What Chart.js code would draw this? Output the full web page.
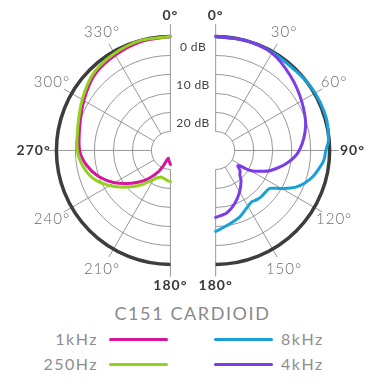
<!DOCTYPE html>
<html>
<head>
<meta charset="utf-8">
<script src="https://cdn.jsdelivr.net/npm/chart.js@4"></script>
<style>
  body { margin: 0; background: #fff; width: 381px; height: 384px; overflow: hidden; position: relative; font-family: Lato, "Open Sans", sans-serif; }
  #chart { position: absolute; left: 0; top: 0; }
  #title { position: absolute; left: 0; width: 385px; top: 302px; text-align: center; font-size: 18px; letter-spacing: 1.6px; color: #8a8a8a; }
  .key { position: absolute; font-size: 16px; letter-spacing: 1.5px; color: #8e8e8e; line-height: 16px; }
  .key.l { text-align: right; width: 98px; left: 0; }
  .key.r { left: 281px; }
  .swatch { position: absolute; height: 3px; width: 59px; border-radius: 2px; }
</style>
</head>
<body>
<canvas id="chart" width="381" height="300"></canvas>
<div id="title">C151 CARDIOID</div>
<div id="legend"></div>
<script>
// angles in degrees clockwise from 0 (front); levels in dB relative to on-axis
const leftAngles = [360, 345, 330, 315, 300, 285, 270, 260, 250, 240, 230, 220, 210, 205, 200, 195, 190, 185, 180];
const level1k   = [0, -0.3, -1.0, -1.8, -3.7, -5.3, -6.1, -7.6, -9.9, -13.0, -16.6, -19.8, -23.4, -25.5, -27.4, -27.9, -27.4, -27.0, -26.3];
const level250  = [0, 0, -0.5, -1.3, -3.2, -4.8, -5.5, -6.6, -8.4, -11.5, -15.0, -18.2, -21.2, -22.1, -22.6, -22.5, -22.3, -22.0, -21.8];

const angles4k = [0, 15, 30, 45, 60, 75, 90, 100, 110, 115, 120, 124, 130, 135, 140, 150, 160, 170, 180];
const level4k  = [0, 0, -0.4, -2.2, -3.9, -5.5, -8.0, -10.9, -14.6, -17.0, -19.5, -22.9, -21.6, -21.0, -19.6, -17.4, -15.2, -13.3, -12.4];

const angles8k = [0, 15, 30, 45, 55, 65, 75, 85, 90, 95, 100, 105, 110, 115, 120, 125, 130, 135, 140, 145, 150, 155, 160, 170, 180];
const level8k  = [0, 0, -0.2, -0.3, 0.1, 0.3, 0.3, -0.2, -1.0, -1.4, -2.4, -3.5, -5.0, -7.0, -10.0, -12.6, -12.9, -12.9, -13.1, -13.5, -13.0, -12.3, -11.4, -10.2, -8.7];

const degreeTicks = [0, 30, 60, 90, 120, 150, 180, 210, 240, 270, 300, 330];
const ringLevels = [-25, -20, -15, -10, -5];
const dbLabels = ['0 dB', '10 dB', '20 dB'];
const dbLabelLevels = [0, -10, -20];

const legendItems = [
  { name: '1kHz', color: '#d4179b', side: 'l', row: 0 },
  { name: '250Hz', color: '#93d11f', side: 'l', row: 1 },
  { name: '8kHz', color: '#1aa0d8', side: 'r', row: 0 },
  { name: '4kHz', color: '#7b3ee6', side: 'r', row: 1 }
];

const range = 30;     // dB from centre to outer ring
const split = 5.95;   // half offset from middle, in dB units

function toXY(angles, levels, cx) {
  return angles.map((a, i) => {
    const r = range + levels[i];
    const t = a * Math.PI / 180;
    return { x: cx + r * Math.sin(t), y: r * Math.cos(t) };
  });
}

function series(label, data, color, order) {
  return {
    label: label, data: data, borderColor: color, backgroundColor: color,
    showLine: true, pointRadius: 0, borderWidth: 3, tension: 0.3,
    borderCapStyle: 'round', borderJoinStyle: 'round', order: order, clip: false
  };
}

const polarGrid = {
  id: 'polarGrid',
  beforeDatasetsDraw(chart) {
    const ctx = chart.ctx;
    const xs = chart.scales.x, ys = chart.scales.y;
    const unit = xs.getPixelForValue(1) - xs.getPixelForValue(0);
    const cy = ys.getPixelForValue(0);
    const halves = [
      { cx: xs.getPixelForValue(-split), start: Math.PI / 2, ticks: degreeTicks.filter(d => d >= 180).concat([0]) },
      { cx: xs.getPixelForValue(split), start: -Math.PI / 2, ticks: degreeTicks.filter(d => d <= 180) }
    ];
    ctx.save();
    halves.forEach(h => {
      // thin rings
      ctx.strokeStyle = '#8c8c8c';
      ctx.lineWidth = 0.9;
      ringLevels.forEach(lv => {
        ctx.beginPath();
        ctx.arc(h.cx, cy, (range + lv) * unit, h.start, h.start + Math.PI);
        ctx.stroke();
      });
      // spokes
      h.ticks.forEach(d => {
        const t = d * Math.PI / 180;
        const outer = (d % 180 === 0 ? 33.2 : 32.4) * unit;
        const inner = 5 * unit;
        ctx.beginPath();
        ctx.moveTo(h.cx + inner * Math.sin(t), cy - inner * Math.cos(t));
        ctx.lineTo(h.cx + outer * Math.sin(t), cy - outer * Math.cos(t));
        ctx.stroke();
      });
      // outer 0 dB ring
      ctx.strokeStyle = '#3d3d3d';
      ctx.lineWidth = 3.5;
      ctx.beginPath();
      ctx.arc(h.cx, cy, range * unit, h.start, h.start + Math.PI);
      ctx.stroke();
      // degree labels
      ctx.textAlign = 'center';
      ctx.textBaseline = 'middle';
      h.ticks.forEach(d => {
        const t = d * Math.PI / 180;
        const main = d % 90 === 0;
        const lr = (d % 180 === 0 ? 35.4 : 36) * unit;
        ctx.font = (main ? 'bold 14px' : '300 15px') + ' Lato';
        ctx.fillStyle = main ? '#3a3a3a' : '#6a6a6a';
        ctx.letterSpacing = '1px';
        ctx.fillText(d + '°', h.cx + lr * Math.sin(t), cy - lr * Math.cos(t));
      });
    });
    // dB labels in the gap
    const mid = (halves[0].cx + halves[1].cx) / 2;
    ctx.font = '12px Lato';
    ctx.fillStyle = '#3f3f3f';
    ctx.letterSpacing = '0.4px';
    dbLabels.forEach((txt, i) => {
      ctx.fillText(txt, mid, ys.getPixelForValue(range + dbLabelLevels[i]) + 11);
    });
    ctx.restore();
  }
};

new Chart(document.getElementById('chart'), {
  type: 'scatter',
  data: {
    datasets: [
      series('250Hz', toXY(leftAngles, level250, -split), legendItems[1].color, 1),
      series('1kHz', toXY(leftAngles, level1k, -split), legendItems[0].color, 2),
      series('4kHz', toXY(angles4k, level4k, split), legendItems[3].color, 1),
      series('8kHz', toXY(angles8k, level8k, split), legendItems[2].color, 2)
    ]
  },
  options: {
    responsive: false,
    animation: false,
    layout: { padding: 0 },
    plugins: { legend: { display: false }, tooltip: { enabled: false } },
    scales: {
      x: { type: 'linear', display: false, min: -50.8, max: 49.46 },
      y: { type: 'linear', display: false, min: -39.35, max: 39.6 }
    }
  },
  plugins: [polarGrid]
});

// legend below the chart
const legend = document.getElementById('legend');
legendItems.forEach(item => {
  const top = item.row === 0 ? 339 : 364;
  const label = document.createElement('div');
  label.className = 'key ' + item.side;
  label.style.top = (top - 8) + 'px';
  label.textContent = item.name;
  legend.appendChild(label);
  const sw = document.createElement('div');
  sw.className = 'swatch';
  sw.style.background = item.color;
  sw.style.left = (item.side === 'l' ? 109 : 214) + 'px';
  sw.style.top = (top - 1.5) + 'px';
  legend.appendChild(sw);
});
</script>
</body>
</html>
